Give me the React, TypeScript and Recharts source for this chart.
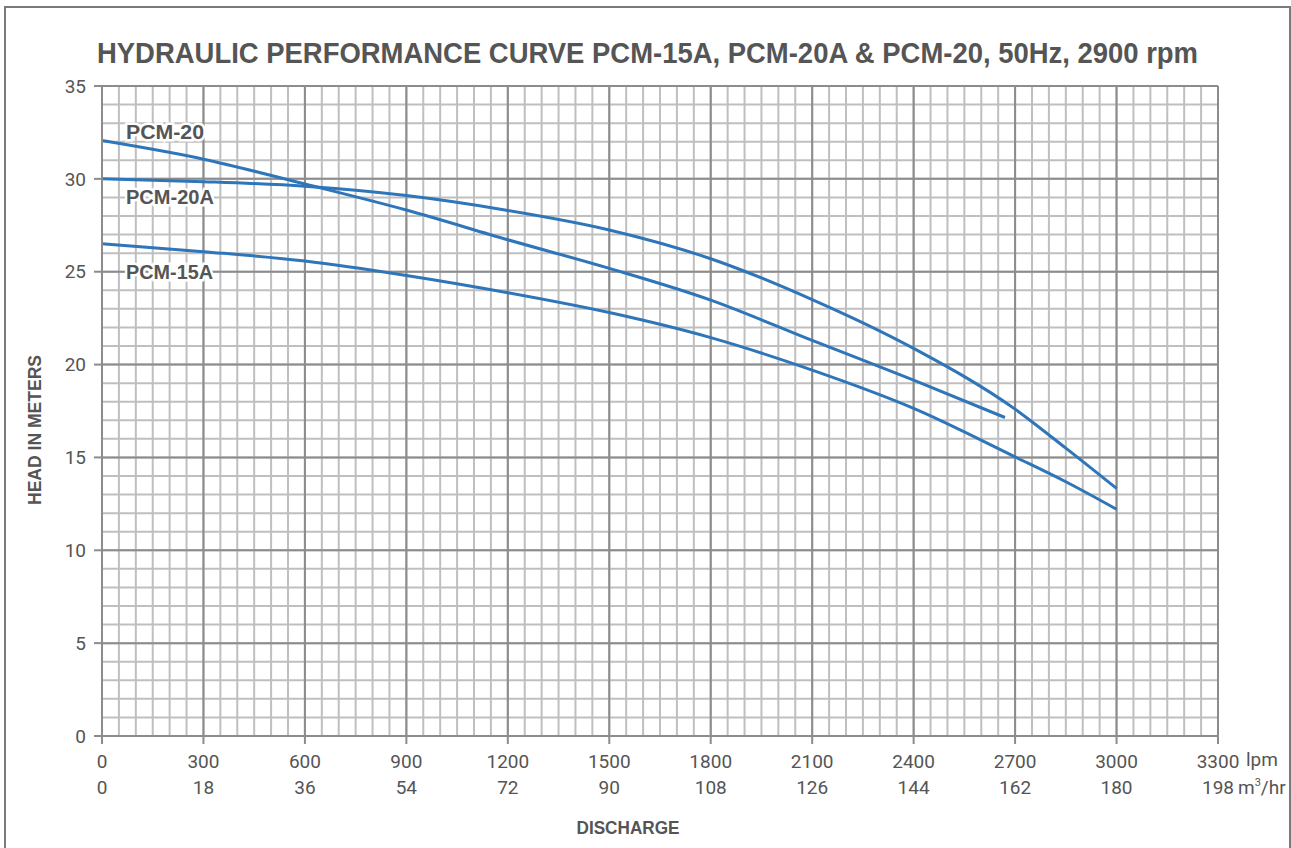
import { LineChart, Line, XAxis, YAxis, CartesianGrid, LabelList } from "recharts";

const FONT = "Roboto, 'Liberation Sans', sans-serif";
const BOLD_FONT = "'Liberation Sans', Roboto, sans-serif";
const TEXT = "#555555";
const CURVE = "#2e75b9";

// flow in lpm, head in metres
const pcm20Flow = [0, 300, 600, 900, 1200, 1500, 1800, 2100, 2400, 2670];
const pcm20Head = [32.06, 31.06, 29.72, 28.32, 26.72, 25.18, 23.47, 21.3, 19.16, 17.15];

const pcm20aFlow = [0, 300, 600, 900, 1200, 1500, 1800, 2100, 2400, 2700, 2850, 3000];
const pcm20aHead = [30.0, 29.85, 29.6, 29.1, 28.3, 27.25, 25.7, 23.5, 20.87, 17.6, 15.5, 13.33];

const pcm15aFlow = [0, 300, 600, 900, 1200, 1500, 1800, 2100, 2400, 2700, 2850, 3000];
const pcm15aHead = [26.5, 26.08, 25.58, 24.8, 23.87, 22.8, 21.45, 19.7, 17.64, 15.03, 13.69, 12.21];

const lpmTicks = [0, 300, 600, 900, 1200, 1500, 1800, 2100, 2400, 2700, 3000, 3300];
const m3hTicks = [0, 18, 36, 54, 72, 90, 108, 126, 144, 162, 180, 198];
const headTicks = [0, 5, 10, 15, 20, 25, 30, 35];
const minorFlowTicks = Array.from({ length: 67 }, (_, i) => i * 50);
const minorHeadTicks = Array.from({ length: 36 }, (_, i) => i);

const X_MAX = 3300;
const Y_MAX = 35;

const toPoints = (flow: number[], head: number[]) => flow.map((q, i) => ({ q, h: head[i] }));

const series = [
  { name: "PCM-20", data: toPoints(pcm20Flow, pcm20Head), labelDy: -2, labelWidth: 78 },
  { name: "PCM-20A", data: toPoints(pcm20aFlow, pcm20aHead), labelDy: 25, labelWidth: 88 },
  { name: "PCM-15A", data: toPoints(pcm15aFlow, pcm15aHead), labelDy: 35, labelWidth: 87 },
];

// minor grid positions come from the axis scales
const minorVertical = ({ xAxis, offset }: any) =>
  minorFlowTicks.map((v) =>
    xAxis && typeof xAxis.scale === "function" ? xAxis.scale(v) : offset.left + (v / X_MAX) * offset.width
  );
const minorHorizontal = ({ yAxis, offset }: any) =>
  minorHeadTicks.map((v) =>
    yAxis && typeof yAxis.scale === "function" ? yAxis.scale(v) : offset.top + (1 - v / Y_MAX) * offset.height
  );

const FlowTick = (props: any) => {
  const { x, y, payload, index } = props;
  const last = index === lpmTicks.length - 1;
  return (
    <g fontFamily={FONT} fontSize={19} fill={TEXT}>
      <text x={x} y={y + 22} textAnchor="middle">{payload.value}</text>
      <text x={x} y={y + 48} textAnchor="middle">{m3hTicks[index]}</text>
      {last && (
        <>
          <text x={x + 28} y={y + 20} textAnchor="start">lpm</text>
          <text x={x + 20} y={y + 48} textAnchor="start">
            m<tspan dy={-8} fontSize={11}>3</tspan><tspan dy={8}>/hr</tspan>
          </text>
        </>
      )}
    </g>
  );
};

const seriesLabel = (name: string, dy: number, w: number) => (props: any) => {
  const { x, y, index } = props;
  if (index !== 0) return null;
  return (
    <text
      x={x + 24}
      y={y + dy}
      textLength={w}
      lengthAdjust="spacingAndGlyphs"
      fontFamily={BOLD_FONT}
      fontSize={21}
      fontWeight="bold"
      fill={TEXT}
      stroke="#ffffff"
      strokeWidth={5}
      paintOrder="stroke"
    >
      {name}
    </text>
  );
};

export default function App() {
  return (
    <div style={{ position: "absolute", left: 0, top: 0, width: 1291, height: 848, overflow: "hidden", background: "#fff" }}>
      <div style={{ position: "absolute", left: 4, top: 6, width: 1283, height: 900, border: "2px solid #7a7a7a" }} />
      <svg style={{ position: "absolute", left: 0, top: 0 }} width={1291} height={848}>
        <text
          x={97}
          y={63}
          textLength={1101}
          lengthAdjust="spacingAndGlyphs"
          fontFamily={BOLD_FONT}
          fontSize={29}
          fontWeight="bold"
          fill={TEXT}
        >
          HYDRAULIC PERFORMANCE CURVE PCM-15A, PCM-20A &amp; PCM-20, 50Hz, 2900 rpm
        </text>
        <text
          x={628}
          y={834}
          textAnchor="middle"
          textLength={103}
          lengthAdjust="spacingAndGlyphs"
          fontFamily={BOLD_FONT}
          fontSize={19}
          fontWeight="bold"
          fill={TEXT}
        >
          DISCHARGE
        </text>
        <text
          transform="translate(41 430) rotate(-90)"
          textAnchor="middle"
          textLength={150}
          lengthAdjust="spacingAndGlyphs"
          fontFamily={BOLD_FONT}
          fontSize={19}
          fontWeight="bold"
          fill={TEXT}
        >
          HEAD IN METERS
        </text>
      </svg>
      <div style={{ position: "absolute", left: 0, top: 0 }}>
        <LineChart width={1291} height={848} margin={{ top: 86, right: 73, left: 42, bottom: 52 }}>
          <CartesianGrid
            stroke="#bfbfbf"
            strokeWidth={2}
            verticalCoordinatesGenerator={minorVertical}
            horizontalCoordinatesGenerator={minorHorizontal}
          />
          <CartesianGrid stroke="#8c8c8c" strokeWidth={2} />
          <XAxis
            type="number"
            dataKey="q"
            domain={[0, X_MAX]}
            ticks={lpmTicks}
            height={60}
            stroke="#8c8c8c"
            strokeWidth={2}
            tickSize={8}
            tick={<FlowTick />}
            interval={0}
          />
          <YAxis
            type="number"
            domain={[0, Y_MAX]}
            ticks={headTicks}
            width={60}
            stroke="#8c8c8c"
            strokeWidth={2}
            tickSize={8}
            tickMargin={8}
            interval={0}
            tick={{ fontFamily: FONT, fontSize: 19, fill: TEXT }}
          />
          {series.map((s) => (
            <Line
              key={s.name}
              data={s.data}
              dataKey="h"
              type="monotone"
              stroke={CURVE}
              strokeWidth={3}
              dot={false}
              isAnimationActive={false}
            >
              <LabelList dataKey="h" content={seriesLabel(s.name, s.labelDy, s.labelWidth)} />
            </Line>
          ))}
        </LineChart>
      </div>
    </div>
  );
}
